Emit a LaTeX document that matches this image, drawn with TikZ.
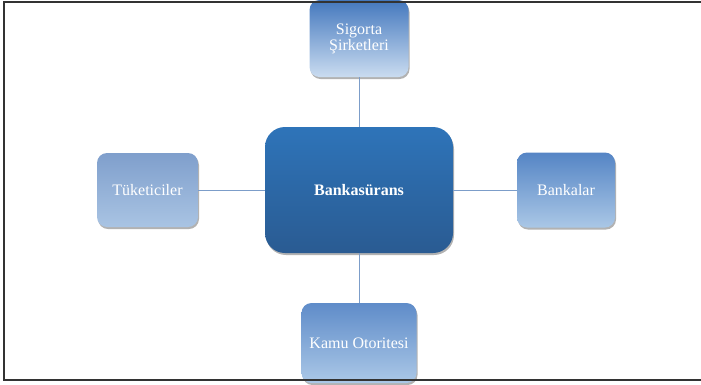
\documentclass[tikz,border=0pt]{standalone}
\usepackage{fontspec}
\setmainfont{Liberation Serif}
\usetikzlibrary{shadows}
\definecolor{linkblue}{HTML}{7C9DC9}
\definecolor{ctop}{HTML}{2E74B9}
\definecolor{cbot}{HTML}{2A5B92}
\definecolor{stop}{HTML}{4478BE}
\definecolor{sbot}{HTML}{CADCF0}
\definecolor{ttop}{HTML}{7F9FCC}
\definecolor{tbot}{HTML}{A9C4E3}
\definecolor{btop}{HTML}{5585C5}
\definecolor{bbot}{HTML}{AAC7E6}
\definecolor{ktop}{HTML}{5F8CC9}
\definecolor{kbot}{HTML}{ABC8E7}
\begin{document}
\begin{tikzpicture}[x=1pt,y=-1pt,
  box/.style={rectangle, rounded corners=10pt, inner sep=0pt, text=white, align=center,
    font=\fontsize{16}{16}\selectfont,
    drop shadow={shadow xshift=1pt, shadow yshift=-2pt, opacity=0.3, fill=black}},
  link/.style={draw=linkblue, line width=1pt}]
\useasboundingbox (0,0) rectangle (701,384);
\node[box, minimum width=188pt, minimum height=126pt, rounded corners=20pt,
  top color=ctop, bottom color=cbot, font=\fontsize{16}{16}\selectfont\bfseries] (c) at (359,190) {Bankasürans};
\node[box, minimum width=99pt, minimum height=77pt, top color=stop, bottom color=sbot] (s) at (359,38.5) {Sigorta\\Şirketleri};
\node[box, minimum width=101pt, minimum height=74pt, top color=ttop, bottom color=tbot] (t) at (147.5,190) {Tüketiciler};
\node[box, minimum width=98pt, minimum height=75pt, top color=btop, bottom color=bbot] (b) at (566,190) {Bankalar};
\node[box, minimum width=115pt, minimum height=80pt, top color=ktop, bottom color=kbot] (k) at (359,343) {Kamu Otoritesi};
\draw[link] (s.south) -- (c.north);
\draw[link] (c.west) -- (t.east);
\draw[link] (c.east) -- (b.west);
\draw[link] (c.south) -- (k.north);
\draw[line width=1.3pt, draw=black!80] (701,2) -- (4,2) -- (4,380) -- (701,380);
\end{tikzpicture}
\end{document}
